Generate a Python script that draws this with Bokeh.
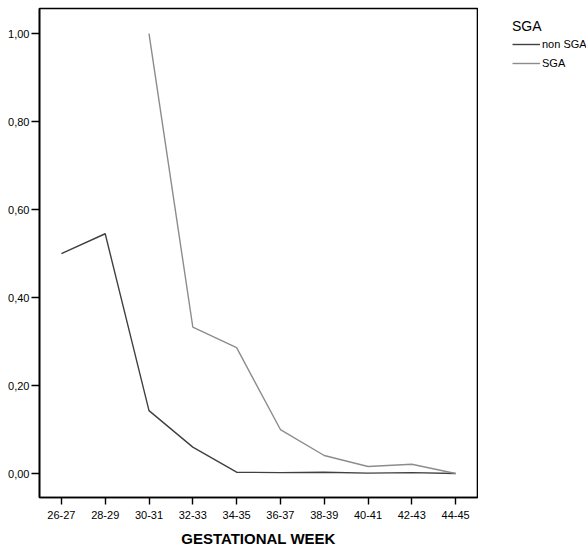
from bokeh.plotting import figure
from bokeh.layouts import row
from bokeh.models import Legend, LegendItem, CustomJSTickFormatter, FixedTicker, Range1d
from bokeh.embed import file_html
from bokeh.resources import INLINE

weeks = ["26-27", "28-29", "30-31", "32-33", "34-35", "36-37", "38-39", "40-41", "42-43", "44-45"]
non_sga = [0.500, 0.545, 0.143, 0.060, 0.003, 0.002, 0.003, 0.001, 0.002, 0.000]
sga_weeks = ["30-31", "32-33", "34-35", "36-37", "38-39", "40-41", "42-43", "44-45"]
sga = [1.000, 0.333, 0.286, 0.100, 0.041, 0.016, 0.021, 0.000]
y_ticks = [0.0, 0.2, 0.4, 0.6, 0.8, 1.0]
series_names = ["non SGA", "SGA"]
series_colors = ["#404040", "#8c8c8c"]

FONT = "Liberation Sans"

p = figure(x_range=weeks, y_range=(-0.0545, 1.057), width=478, height=550,
           output_backend="svg", toolbar_location=None,
           min_border_left=39, min_border_right=1, min_border_top=8, min_border_bottom=53)

p.background_fill_color = "white"
p.border_fill_color = "white"
p.outline_line_color = "black"
p.outline_line_width = 1.6
p.xgrid.visible = False
p.ygrid.visible = False

p.line(weeks, non_sga, line_color=series_colors[0], line_width=1.4)
p.line(sga_weeks, sga, line_color=series_colors[1], line_width=1.4)

for ax in (p.xaxis[0], p.yaxis[0]):
    ax.axis_line_color = "black"
    ax.axis_line_width = 1.6
    ax.major_tick_line_color = "black"
    ax.major_tick_line_width = 1.4
    ax.major_tick_in = 0
    ax.minor_tick_line_color = None
    ax.major_label_text_font = FONT
    ax.major_label_text_font_size = "11px"
    ax.major_label_text_color = "black"

p.yaxis.major_tick_out = 8
p.yaxis.major_label_standoff = 2
p.yaxis.ticker = FixedTicker(ticks=y_ticks)
p.yaxis.formatter = CustomJSTickFormatter(code="return tick.toFixed(2).replace('.', ',');")

p.xaxis.major_tick_out = 7
p.xaxis.major_label_standoff = 6
p.xaxis.axis_label = "GESTATIONAL WEEK"
p.xaxis.axis_label_text_font = FONT
p.xaxis.axis_label_text_font_style = "bold"
p.xaxis.axis_label_text_font_size = "15px"
p.xaxis.axis_label_text_color = "black"
p.xaxis.axis_label_standoff = 8

# legend panel: same series drawn outside its visible y-range, so only the legend shows
p2 = figure(x_range=weeks, y_range=Range1d(5, 6),
            width=108, height=550, output_backend="svg", toolbar_location=None,
            x_axis_location=None, y_axis_location=None,
            min_border_left=24, min_border_right=0, min_border_top=4, min_border_bottom=0)
p2.outline_line_color = None
p2.xgrid.visible = False
p2.ygrid.visible = False
p2.background_fill_color = "white"
p2.border_fill_color = "white"

q1 = p2.line(weeks, non_sga, line_color=series_colors[0], line_width=1.4)
q2 = p2.line(sga_weeks, sga, line_color=series_colors[1], line_width=1.4)
items = [LegendItem(label=series_names[0], renderers=[q1]),
         LegendItem(label=series_names[1], renderers=[q2])]

legend = Legend(items=items,
                title="SGA", title_text_font=FONT, title_text_font_size="14px",
                title_text_font_style="normal", title_text_color="black", title_standoff=3,
                label_text_font=FONT, label_text_font_size="11px", label_text_color="black",
                glyph_width=28, glyph_height=14, label_height=14, label_standoff=2,
                spacing=5, padding=4, margin=10, border_line_color=None,
                background_fill_alpha=0, location="top_left")
p2.add_layout(legend)

layout = row(p, p2, spacing=0)
open("out.html", "w").write(file_html(layout, INLINE))
